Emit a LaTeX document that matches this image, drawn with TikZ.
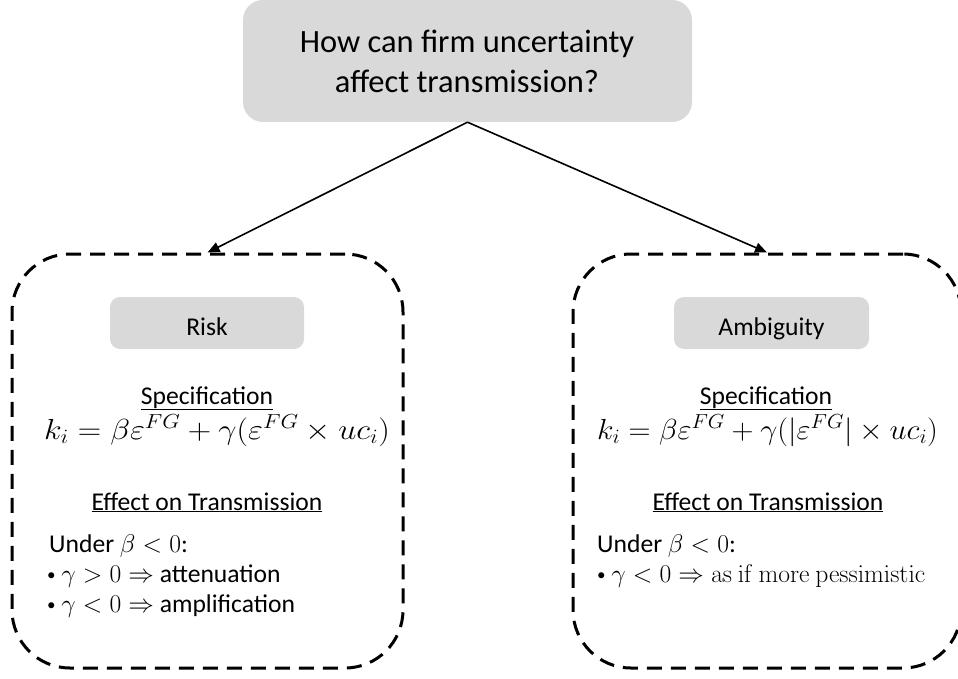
\documentclass[tikz,border=0pt]{standalone}
\usepackage{fix-cm}
\usepackage{graphicx}
\usepackage[no-math]{fontspec}
\setmainfont{Carlito}
\usetikzlibrary{arrows.meta}
\definecolor{boxgray}{HTML}{D9D9D9}
\newcommand{\smbul}{{\fontsize{17}{20}\selectfont\raisebox{0.15ex}{\textbullet}}}
\newcommand{\wideeq}[2]{\scalebox{#1}[1]{#2}}
\tikzset{
  graybox/.style={fill=boxgray, draw=none, rounded corners=10pt, inner sep=0pt},
  titlebox/.style={fill=boxgray, draw=none, rounded corners=20pt, inner sep=0pt},
  dashbox/.style={draw=black, line width=3pt, dash pattern=on 15pt off 9pt, rounded corners=58pt, inner sep=0pt},
  conn/.style={draw=black, line width=1.6pt, -{Triangle[length=12pt,width=10pt]}},
  body/.style={font=\fontsize{25.6}{30}\selectfont, inner sep=0pt, anchor=base},
  bodyw/.style={font=\fontsize{25.6}{30}\selectfont, inner sep=0pt, anchor=base west},
  eq/.style={font=\fontsize{29}{34}\selectfont, inner sep=0pt, anchor=base},
}
\begin{document}
\begin{tikzpicture}[x=1pt,y=-1pt]
\useasboundingbox (0,0) rectangle (958,679);
% title box
\node[titlebox, minimum width=449pt, minimum height=122pt] (top) at (467.5,61) {};
\node[font=\fontsize{32.5}{40}\selectfont, align=center, inner sep=0pt, anchor=base] (toptext) at (467,93) {How can firm uncertainty\\affect transmission?};
% dashed boxes
\node[dashbox, minimum width=391pt, minimum height=414pt] (left) at (207.5,461) {};
\node[dashbox, minimum width=388pt, minimum height=414pt] (right) at (767,461) {};
% arrows
\draw[conn] (top.south) -- (left.north);
\draw[conn] (top.south) -- (right.north);
% left content
\node[graybox, minimum width=194pt, minimum height=52pt] (risk) at (207,323) {};
\node[body] (risktext) at (207,335) {Risk};
\node[body] (lspec) at (207,404) {\underline{Specification}};
\node[eq] (leq) at (217,439) {\wideeq{1.12}{$k_i=\beta\varepsilon^{FG}+\gamma(\varepsilon^{FG}\times uc_i)$}};
\node[body] (leff) at (207,510) {\underline{Effect on Transmission}};
\node[bodyw] (lunder) at (49,552) {Under $\beta<0$:};
\node[bodyw] (lb1) at (47,582) {\smbul\ $\gamma>0\Rightarrow$ attenuation};
\node[bodyw] (lb2) at (47,612) {\smbul\ $\gamma<0\Rightarrow$ amplification};
% right content
\node[graybox, minimum width=195pt, minimum height=52pt] (amb) at (771.5,323) {};
\node[body] (ambtext) at (771.5,335) {Ambiguity};
\node[body] (rspec) at (766,404) {\underline{Specification}};
\node[eq] (req) at (767.5,439) {\wideeq{1.05}{$k_i=\beta\varepsilon^{FG}+\gamma(|\varepsilon^{FG}|\times uc_i)$}};
\node[body] (reff) at (768,510) {\underline{Effect on Transmission}};
\node[bodyw] (runder) at (597,552) {Under $\beta<0$:};
\node[bodyw] (rb1) at (597,582) {\smbul\ $\gamma<0\Rightarrow\mathrm{as\ if\ more\ pessimistic}$};
\end{tikzpicture}
\end{document}
